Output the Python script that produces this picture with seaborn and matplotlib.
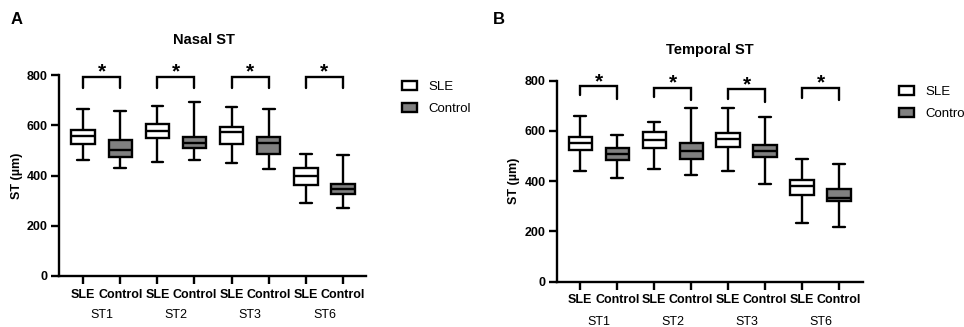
import numpy as np
import pandas as pd
import matplotlib
matplotlib.use("Agg")
import matplotlib.pyplot as plt
import matplotlib.transforms as mtransforms
from matplotlib.patches import Patch
import seaborn as sns

sns.set_theme(style="ticks")
plt.rcParams['font.family'] = ['Liberation Sans', 'DejaVu Sans']
plt.rcParams['text.color'] = 'black'
plt.rcParams['axes.labelcolor'] = 'black'
plt.rcParams['xtick.color'] = 'black'
plt.rcParams['ytick.color'] = 'black'

# ---- data (five-number summaries: min, Q1, median, Q3, max) ----
regions = ["ST1", "ST2", "ST3", "ST6"]
groups = ["SLE", "Control"]

nasal_sle = [
    [460, 524, 557, 581, 665],
    [452, 551, 578, 605, 677],
    [450, 527, 573, 593, 674],
    [292, 361, 399, 429, 486],
]
nasal_control = [
    [431, 475, 501, 541, 657],
    [463, 511, 528, 553, 694],
    [427, 486, 531, 552, 665],
    [271, 325, 345, 367, 480],
]
temporal_sle = [
    [439, 524, 551, 576, 661],
    [448, 531, 565, 594, 634],
    [440, 537, 568, 593, 690],
    [233, 345, 381, 405, 488],
]
temporal_control = [
    [411, 483, 508, 532, 582],
    [425, 490, 521, 553, 690],
    [389, 495, 521, 545, 657],
    [219, 322, 334, 369, 467],
]

# significance brackets: (top, left leg end, right leg end, star centre)
nasal_brackets = [
    (793, 747, 747, 833),
    (793, 747, 747, 833),
    (793, 747, 747, 833),
    (793, 747, 747, 833),
]
temporal_brackets = [
    (779, 743, 726, 818),
    (772, 734, 723, 813),
    (767, 727, 714, 806),
    (772, 732, 723, 813),
]

yticks = [0, 200, 400, 600, 800]
colors = {"SLE": "white", "Control": "#808080"}


def make_df(sle, ctrl):
    rows = []
    for i, reg in enumerate(regions):
        for g, vals in (("SLE", sle[i]), ("Control", ctrl[i])):
            for v in vals:
                rows.append({"label": f"{reg} {g}", "group": g, "value": v})
    return pd.DataFrame(rows)


W, H = 964, 327
fig = plt.figure(figsize=(W / 100, H / 100), dpi=100)


def px_axes(x0, y0, x1, y1):
    return fig.add_axes([x0 / W, 1 - y1 / H, (x1 - x0) / W, (y1 - y0) / H])


LW = 1.7


def draw_panel(ax, sle, ctrl, brackets, xlim, ylabel_x, group_y):
    df = make_df(sle, ctrl)
    order = [f"{r} {g}" for r in regions for g in groups]
    sns.boxplot(data=df, x="label", y="value", hue="group", order=order,
                hue_order=groups, palette=colors, dodge=False, whis=(0, 100),
                width=0.63, linecolor="black", linewidth=LW, legend=False,
                ax=ax)
    ax.set_xlim(*xlim)
    ax.set_ylim(0, 800)
    ax.set_yticks(yticks)
    ax.set_yticklabels([str(t) for t in yticks], fontweight="bold", fontsize=9)
    ax.set_xticks(range(len(order)))
    ax.set_xticklabels([g for r in regions for g in groups], fontweight="bold",
                       fontsize=9)
    ax.set_xlabel("")
    ax.set_ylabel("ST (µm)", fontweight="bold", fontsize=9, color="black")
    ax.yaxis.set_label_coords(ylabel_x, 0.5)
    for s in ("top", "right"):
        ax.spines[s].set_visible(False)
    for s in ("left", "bottom"):
        ax.spines[s].set_linewidth(LW)
        ax.spines[s].set_color("black")
    ax.tick_params(axis="both", width=LW, length=6, color="black",
                   labelcolor="black")
    ax.tick_params(axis="x", pad=3)
    ax.tick_params(axis="y", pad=2)
    trans = mtransforms.blended_transform_factory(ax.transData, ax.transAxes)
    for i, reg in enumerate(regions):
        x0, x1 = 2 * i, 2 * i + 1
        ax.text((x0 + x1) / 2, group_y, reg, transform=trans, ha="center",
                va="center", fontsize=9, color="black")
        top, yl, yr, ys = brackets[i]
        ax.plot([x0, x0, x1, x1], [yl, top, top, yr], color="black", lw=LW,
                clip_on=False, solid_joinstyle="miter")
        ax.text((x0 + x1) / 2, ys - 44, "*", ha="center", va="baseline",
                fontsize=15, fontweight="bold", color="black", clip_on=False)


axA = px_axes(59, 75, 366, 276)
draw_panel(axA, nasal_sle, nasal_control, nasal_brackets, (-0.65, 7.62),
           -0.117, -0.194)
axB = px_axes(557, 80.7, 863, 281.7)
draw_panel(axB, temporal_sle, temporal_control, temporal_brackets,
           (-0.63, 7.65), -0.122, -0.20)

fig.text(11 / W, 1 - 20 / H, "A", fontsize=12, fontweight="bold",
         ha="left", va="center", color="black")
fig.text(493 / W, 1 - 20 / H, "B", fontsize=12, fontweight="bold",
         ha="left", va="center", color="black")
fig.text(204 / W, 1 - 40 / H, "Nasal ST", fontsize=10.5, fontweight="bold",
         ha="center", va="center", color="black")
fig.text(710 / W, 1 - 50 / H, "Temporal ST", fontsize=10.5, fontweight="bold",
         ha="center", va="center", color="black")

handles = [Patch(facecolor=colors[g], edgecolor="black", linewidth=LW, label=g)
           for g in groups]
for (lx, ly) in ((402, 81), (899, 86)):
    leg = fig.legend(handles=handles, loc="upper left",
                     bbox_to_anchor=(lx / W, 1 - ly / H), frameon=False,
                     fontsize=9.5, handlelength=1.1, handleheight=0.65,
                     handletextpad=0.9, labelspacing=0.78, borderpad=0,
                     borderaxespad=0, labelcolor="black")

fig.savefig("out.png", dpi=100)
